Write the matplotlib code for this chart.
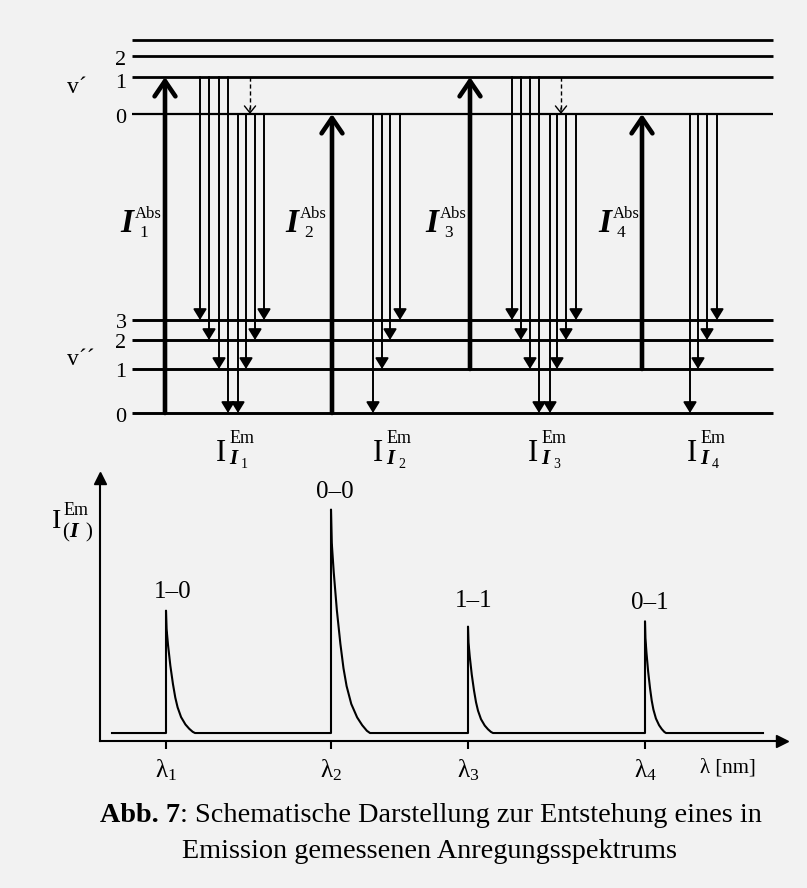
import matplotlib
matplotlib.use('Agg')
import matplotlib.pyplot as plt
from matplotlib.patches import FancyArrowPatch

plt.rcParams['font.family'] = ['Liberation Serif', 'DejaVu Serif']
plt.rcParams['mathtext.fontset'] = 'custom'
plt.rcParams['mathtext.rm'] = 'Liberation Serif'
plt.rcParams['mathtext.it'] = 'Liberation Serif:italic'
plt.rcParams['mathtext.bf'] = 'Liberation Serif:bold'

# ---------------- data ----------------
# vibrational level energies (arbitrary units)
upper_E = [299, 336, 357, 373]      # v' = 0,1,2,3
lower_E = [0, 44, 73, 93]           # v'' = 0,1,2,3
upper_labels = ['0', '1', '2']
lower_labels = ['0', '1', '2', '3']

# absorption transitions (v'' -> v')
abs_x = [165, 332, 470, 642]
abs_from = [0, 0, 1, 1]
abs_to = [1, 0, 1, 0]
abs_names = ['1', '2', '3', '4']

# emission transitions (v' -> v'')
em_x = [200, 209, 219, 228, 238, 246, 255, 264,
        373, 382, 390, 400,
        512, 521, 530, 539, 550, 557, 566, 576,
        690, 698, 707, 717]
em_from = [1, 1, 1, 1, 0, 0, 0, 0,
           0, 0, 0, 0,
           1, 1, 1, 1, 0, 0, 0, 0,
           0, 0, 0, 0]
em_to = [3, 2, 1, 0, 0, 1, 2, 3,
         0, 1, 2, 3,
         3, 2, 1, 0, 0, 1, 2, 3,
         0, 1, 2, 3]
relax_x = [250, 561]               # v'=1 -> v'=0 relaxation (dashed)

# excitation spectrum
peak_pos = [166, 331, 468, 645]
peak_height = [0.46, 0.84, 0.40, 0.42]   # above baseline
peak_width = [29, 39, 25, 21]
peak_labels = ['1–0', '0–0', '1–1', '0–1']
tick_labels = [r'$\mathrm{λ}_{1}$', r'$\mathrm{λ}_{2}$', r'$\mathrm{λ}_{3}$', r'$\mathrm{λ}_{4}$']
baseline = 0.03
spec_start, spec_end = 112, 763
decay_frac = [0, 0.02, 0.07, 0.15, 0.24, 0.32, 0.40, 0.52, 0.67, 0.80, 0.92, 1.0]
decay_rel = [1.0, 0.85, 0.72, 0.55, 0.40, 0.29, 0.21, 0.13, 0.07, 0.035, 0.01, 0.0]

# ---------------- figure ----------------
W, H = 807, 888
fig = plt.figure(figsize=(W / 100, H / 100), dpi=100, facecolor='#f2f2f2')

ax0 = fig.add_axes([0, 0, 1, 1])
ax0.set_xlim(0, W)
ax0.set_ylim(H, 0)
ax0.axis('off')
ax0.patch.set_alpha(0)

# level diagram axes
ax1 = fig.add_axes([0, (H - 413) / H, 1, (413 - 40) / H])
ax1.set_xlim(0, W)
ax1.set_ylim(0, 373)
ax1.axis('off')
ax1.patch.set_alpha(0)

lvl_lw = [1.6, 2.0, 2.0, 2.0]
for E, lw in zip(upper_E, lvl_lw):
    ax1.hlines(E, 132, 773, color='k', lw=lw, clip_on=False)
for E in lower_E:
    ax1.hlines(E, 132, 773, color='k', lw=2.1, clip_on=False)

for x, f, t in zip(abs_x, abs_from, abs_to):
    ax1.add_patch(FancyArrowPatch((x, lower_E[f]), (x, upper_E[t]),
                                  arrowstyle='->,head_length=11,head_width=7.5',
                                  mutation_scale=1, lw=3.3, color='k',
                                  shrinkA=0, shrinkB=0, clip_on=False))

for x, f, t in zip(em_x, em_from, em_to):
    ax1.add_patch(FancyArrowPatch((x, upper_E[f]), (x, lower_E[t]),
                                  arrowstyle='-|>,head_length=6.5,head_width=4',
                                  mutation_scale=1, lw=1.4, color='k',
                                  shrinkA=0, shrinkB=0, clip_on=False))

for x in relax_x:
    ax1.plot([x, x], [upper_E[1], upper_E[0] + 4], color='k', lw=1.0,
             ls=(0, (3, 2)), clip_on=False)
    ax1.add_patch(FancyArrowPatch((x, upper_E[0] + 6), (x, upper_E[0]),
                                  arrowstyle='->,head_length=5,head_width=4',
                                  mutation_scale=1, lw=1.0, color='k',
                                  shrinkA=0, shrinkB=0, clip_on=False))

# level labels (pixel overlay)
fs_lvl = 16
for lab, yb in zip(['2', '1', '0'], [65, 88, 123]):
    ax0.text(121, yb, lab, fontsize=fs_lvl, ha='center', va='baseline')
ax0.text(67, 93, 'v´', fontsize=17, ha='left', va='baseline')
for lab, yb in zip(['3', '2', '1', '0'], [328, 348, 377, 422]):
    ax0.text(121, yb, lab, fontsize=fs_lvl, ha='center', va='baseline')
ax0.text(67, 365, 'v´´', fontsize=17, ha='left', va='baseline')

# absorption labels
for x0, k in zip([120, 285, 425, 598], abs_names):
    ax0.text(x0, 232, 'I', fontsize=24, fontweight='bold', fontstyle='italic',
             ha='left', va='baseline')
    ax0.text(x0 + 15, 218, 'Abs', fontsize=12, ha='left', va='baseline')
    ax0.text(x0 + 19, 237, k, fontsize=12.5, ha='left', va='baseline')

# emission labels
for x0, k in zip([216, 373, 528, 687], abs_names):
    ax0.text(x0, 461, 'I', fontsize=22, ha='left', va='baseline')
    ax0.text(x0 + 14, 443, 'Em', fontsize=13, ha='left', va='baseline')
    ax0.text(x0 + 13, 464, 'I', fontsize=15, fontweight='bold', fontstyle='italic',
             ha='left', va='baseline')
    ax0.text(x0 + 25, 468, k, fontsize=10, ha='left', va='baseline')

# ---------------- spectrum ----------------
ax2 = fig.add_axes([100 / W, (H - 741) / H, (785 - 100) / W, (741 - 475) / H])
ax2.set_xlim(100, 785)
ax2.set_ylim(0, 1)
ax2.patch.set_alpha(0)
for s in ['top', 'right']:
    ax2.spines[s].set_visible(False)
for s in ['left', 'bottom']:
    ax2.spines[s].set_linewidth(1.5)
ax2.set_yticks([])
ax2.set_xticks(peak_pos)
ax2.set_xticklabels(tick_labels, fontsize=18)
ax2.tick_params(axis='x', direction='out', length=6, width=1.5, pad=6)
ax2.plot(0.995, 0, '>k', ms=8, transform=ax2.transAxes, clip_on=False)
ax2.plot(0, 0.99, '^k', ms=8, transform=ax2.transAxes, clip_on=False)

xs, ys = [spec_start], [baseline]
for p, h, w in zip(peak_pos, peak_height, peak_width):
    xs += [p, p]
    ys += [baseline, baseline + h]
    for f, r in zip(decay_frac, decay_rel):
        xs.append(p + f * w)
        ys.append(baseline + r * h)
xs.append(spec_end)
ys.append(baseline)
ax2.plot(xs, ys, color='k', lw=1.5, clip_on=False)

for p, lab, yb in zip([173, 335, 474, 650], peak_labels, [598, 498, 607, 609]):
    ax0.text(p, yb, lab, fontsize=18, ha='center', va='baseline')

# y-axis label
ax0.text(52, 528, 'I', fontsize=20, ha='left', va='baseline')
ax0.text(64, 515, 'Em', fontsize=13, ha='left', va='baseline')
ax0.text(62, 537, '(', fontsize=15, ha='left', va='baseline')
ax0.text(69, 537, 'I', fontsize=16, fontweight='bold', fontstyle='italic', ha='left', va='baseline')
ax0.text(85, 537, ')', fontsize=15, ha='left', va='baseline')

ax0.text(700, 772, 'λ [nm]', fontsize=15, ha='left', va='baseline')

# caption
t1 = ax0.text(100, 822, 'Abb. 7', fontsize=20.3, fontweight='bold', ha='left', va='baseline')
ax0.annotate(': Schematische Darstellung zur Entstehung eines in', xy=(1, 0),
             xycoords=t1, fontsize=20.3, ha='left', va='bottom')
ax0.text(430, 858, 'Emission gemessenen Anregungsspektrums', fontsize=20.3,
         ha='center', va='baseline')

fig.savefig('out.png', dpi=100, facecolor='#f2f2f2')
